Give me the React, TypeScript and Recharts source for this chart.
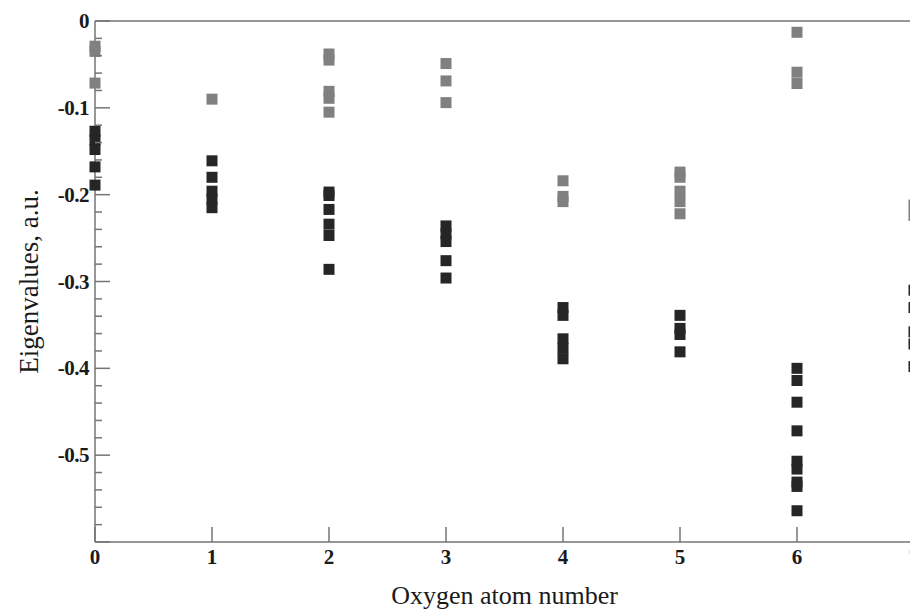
import React from "react";
import { ScatterChart, Scatter, XAxis, YAxis, Label } from "recharts";

// oxygen atom number on the x axis (7 sits on the clipped right edge)
const atomNumbers = [0, 1, 2, 3, 4, 5, 6, 7];

// upper (grey) levels per atom number, a.u.
const upperLevels = [
  [-0.029, -0.035, -0.0715],
  [-0.09],
  [-0.038, -0.045, -0.081, -0.089, -0.105],
  [-0.049, -0.069, -0.094],
  [-0.184, -0.202, -0.208],
  [-0.174, -0.18, -0.196, -0.208, -0.222],
  [-0.013, -0.059, -0.072],
  [-0.212, -0.224],
];

// lower (black) levels per atom number, a.u.
const lowerLevels = [
  [-0.127, -0.137, -0.148, -0.168, -0.189],
  [-0.161, -0.18, -0.196, -0.205, -0.215],
  [-0.197, -0.201, -0.217, -0.234, -0.247, -0.286],
  [-0.236, -0.245, -0.254, -0.276, -0.296],
  [-0.33, -0.339, -0.366, -0.377, -0.389],
  [-0.339, -0.354, -0.361, -0.381],
  [-0.4, -0.414, -0.439, -0.472, -0.507, -0.516, -0.531, -0.536, -0.564],
  [-0.31, -0.33, -0.358, -0.372, -0.398],
];

const xTicks = [0, 1, 2, 3, 4, 5, 6, 7];
const yTicks = [
  0, -0.02, -0.04, -0.06, -0.08, -0.1, -0.12, -0.14, -0.16, -0.18, -0.2,
  -0.22, -0.24, -0.26, -0.28, -0.3, -0.32, -0.34, -0.36, -0.38, -0.4,
  -0.42, -0.44, -0.46, -0.48, -0.5, -0.52, -0.54, -0.56, -0.58, -0.6,
];
const yLabels = [0, -0.1, -0.2, -0.3, -0.4, -0.5];

const upperPoints = atomNumbers.flatMap((n, i) =>
  upperLevels[i].map((e) => ({ atom: n, energy: e }))
);
const lowerPoints = atomNumbers.flatMap((n, i) =>
  lowerLevels[i].map((e) => ({ atom: n, energy: e }))
);

const AXIS = "#747474";
const FONT = '"Liberation Serif", "DejaVu Serif", serif';

const isMajor = (v: number) => Math.abs(v * 10 - Math.round(v * 10)) < 1e-6;
const fmt = (v: number) => (v === 0 ? "0" : v.toFixed(1));

const square = (fill: string) => (props: any) =>
  (
    <rect
      x={props.cx - 5.5}
      y={props.cy - 5.5}
      width={11}
      height={11}
      fill={fill}
    />
  );

const LeftTick = (props: any) => {
  const { x, y, payload } = props;
  const v = payload.value;
  const major = isMajor(v);
  const showLabel = yLabels.some((l) => Math.abs(l - v) < 1e-6);
  return (
    <g>
      <line x1={x} x2={x + (major ? 15 : 7)} y1={y} y2={y} stroke={AXIS} strokeWidth={1.5} />
      {showLabel && (
        <text
          x={x - 6}
          y={y + 7}
          textAnchor="end"
          fontFamily={FONT}
          fontWeight="bold"
          fontSize={21}
          letterSpacing={-0.5}
          fill="#1a1a1a"
        >
          {fmt(v)}
        </text>
      )}
    </g>
  );
};

const RightTick = (props: any) => {
  const { x, y, payload } = props;
  const major = isMajor(payload.value);
  return (
    <line x1={x} x2={x - (major ? 15 : 7)} y1={y} y2={y} stroke={AXIS} strokeWidth={1.5} />
  );
};

const BottomTick = (props: any) => {
  const { x, y, payload } = props;
  return (
    <g>
      <line x1={x} x2={x} y1={y} y2={y - 15} stroke={AXIS} strokeWidth={1.5} />
      <text
        x={x}
        y={y + 22}
        textAnchor="middle"
        fontFamily={FONT}
        fontWeight="bold"
        fontSize={21}
        fill="#1a1a1a"
      >
        {payload.value}
      </text>
    </g>
  );
};

const TopTick = (props: any) => {
  const { x, y } = props;
  return <line x1={x} x2={x} y1={y} y2={y + 15} stroke={AXIS} strokeWidth={1.5} />;
};

export default function App() {
  return (
    <div
      style={{
        position: "absolute",
        left: 0,
        top: 0,
        width: 910,
        height: 610,
        overflow: "hidden",
        background: "#fff",
      }}
    >
      <ScatterChart
        width={930}
        height={610}
        margin={{ top: 20, right: 15, bottom: 67, left: 94 }}
      >
        <XAxis
          xAxisId="bottom"
          type="number"
          dataKey="atom"
          domain={[0, 7]}
          ticks={xTicks}
          interval={0}
          height={1}
          tickSize={0}
          tickMargin={0}
          tickLine={false}
          axisLine={{ stroke: AXIS, strokeWidth: 1.5 }}
          tick={<BottomTick />}
        >
          <Label
            value="Oxygen atom number"
            position="bottom"
            offset={43}
            style={{ fontFamily: FONT, fontSize: 26, fill: "#1a1a1a" }}
          />
        </XAxis>
        <XAxis
          xAxisId="top"
          orientation="top"
          type="number"
          domain={[0, 7]}
          ticks={xTicks}
          interval={0}
          height={1}
          tickSize={0}
          tickMargin={0}
          tickLine={false}
          axisLine={{ stroke: AXIS, strokeWidth: 1.5 }}
          tick={<TopTick />}
        />
        <YAxis
          yAxisId="left"
          type="number"
          dataKey="energy"
          domain={[-0.6, 0]}
          ticks={yTicks}
          interval={0}
          width={1}
          tickSize={0}
          tickMargin={0}
          tickLine={false}
          axisLine={{ stroke: AXIS, strokeWidth: 1.5 }}
          tick={<LeftTick />}
        >
          <Label
            value="Eigenvalues, a.u."
            angle={-90}
            position="left"
            offset={66}
            style={{ fontFamily: FONT, fontSize: 27, fill: "#1a1a1a", textAnchor: "middle" }}
          />
        </YAxis>
        <YAxis
          yAxisId="right"
          orientation="right"
          type="number"
          domain={[-0.6, 0]}
          ticks={yTicks}
          interval={0}
          width={1}
          tickSize={0}
          tickMargin={0}
          tickLine={false}
          axisLine={{ stroke: AXIS, strokeWidth: 1.5 }}
          tick={<RightTick />}
        />
        <Scatter
          xAxisId="bottom"
          yAxisId="left"
          data={upperPoints}
          fill="#808080"
          shape={square("#808080")}
          isAnimationActive={false}
        />
        <Scatter
          xAxisId="bottom"
          yAxisId="left"
          data={lowerPoints}
          fill="#262626"
          shape={square("#262626")}
          isAnimationActive={false}
        />
      </ScatterChart>
    </div>
  );
}
